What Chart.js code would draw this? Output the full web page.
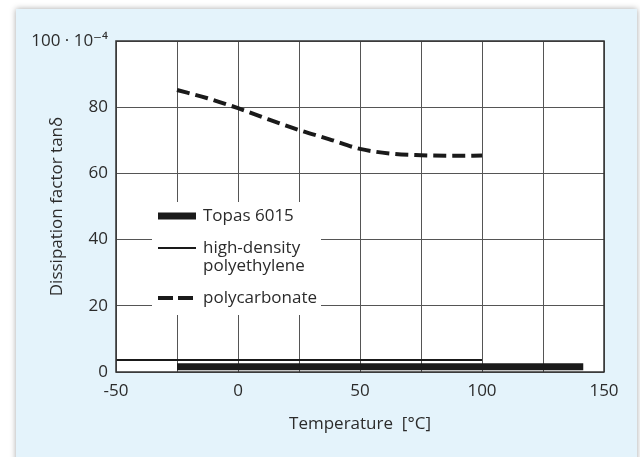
<!DOCTYPE html>
<html>
<head>
<meta charset="utf-8">
<script src="https://cdn.jsdelivr.net/npm/chart.js@4/dist/chart.umd.min.js"></script>
<style>
  html, body { margin: 0; padding: 0; background: #fff; }
  #panel {
    position: absolute; left: 16px; top: 9px; width: 621px; height: 460px;
    background: #e4f3fb; box-shadow: 0 0 6px rgba(0, 0, 0, 0.35);
  }
  #wrap { position: absolute; left: 0; top: 0; width: 640px; height: 457px; }
</style>
</head>
<body>
<div id="panel"></div>
<div id="wrap"><canvas id="chart" width="640" height="457"></canvas></div>
<script>
const FONT = '"Open Sans", "DejaVu Sans", sans-serif'
const INK = '#2b2b2b'

// temperatures (°C) and dissipation factor (x 10^-4)
const topasTemps = [-25, 141.5]
const topasValues = [1.6, 1.6]
const hdpeTemps = [-50, 100]
const hdpeValues = [3.6, 3.6]
const pcTemps = [-25, -12.5, 0, 12.5, 25, 37.5, 50, 62.5, 75, 87.5, 100]
const pcValues = [85.2, 82.7, 79.7, 76.3, 73.1, 70.3, 67.4, 66.0, 65.5, 65.3, 65.4]

const xLabels = [-50, 0, 50, 100, 150]
const yTopLabel = '100 · 10⁻⁴'

const legendItems = [
  { text: ['Topas 6015'], width: 7, dash: [] },
  { text: ['high-density', 'polyethylene'], width: 2, dash: [] },
  { text: ['polycarbonate'], width: 4, dash: [15, 5] },
]

const toPoints = (xs, ys) => xs.map((x, i) => ({ x, y: ys[i] }))

const plotFrame = {
  id: 'plotFrame',
  beforeDraw(chart) {
    const { ctx, chartArea: a } = chart
    ctx.save()
    ctx.fillStyle = '#fff'
    ctx.fillRect(a.left, a.top, a.right - a.left, a.bottom - a.top)
    ctx.restore()
  },
  afterDraw(chart) {
    const { ctx, chartArea: a } = chart
    ctx.save()
    ctx.strokeStyle = '#333'
    ctx.lineWidth = 1.5
    ctx.strokeRect(a.left, a.top, a.right - a.left, a.bottom - a.top)
    ctx.restore()
  },
}

const boxLegend = {
  id: 'boxLegend',
  afterDatasetsDraw(chart) {
    const { ctx } = chart
    ctx.save()
    ctx.fillStyle = '#fff'
    ctx.fillRect(152, 202, 169, 113)
    ctx.font = '17px ' + FONT
    ctx.textBaseline = 'middle'
    ctx.fillStyle = INK
    const rows = [216, 248, 298]
    legendItems.forEach((item, i) => {
      const y = rows[i]
      ctx.strokeStyle = '#1a1a1a'
      ctx.lineWidth = item.width
      ctx.setLineDash(item.dash)
      ctx.beginPath()
      ctx.moveTo(158, y)
      ctx.lineTo(196, y)
      ctx.stroke()
      ctx.setLineDash([])
      item.text.forEach((t, j) => ctx.fillText(t, 203, y + j * 18))
    })
    ctx.restore()
  },
}

new Chart(document.getElementById('chart'), {
  type: 'line',
  data: {
    datasets: [
      {
        label: 'Topas 6015',
        data: toPoints(topasTemps, topasValues),
        borderColor: '#1a1a1a',
        borderWidth: 7,
        pointRadius: 0,
        borderCapStyle: 'butt',
      },
      {
        label: 'high-density polyethylene',
        data: toPoints(hdpeTemps, hdpeValues),
        borderColor: '#1a1a1a',
        borderWidth: 2,
        pointRadius: 0,
      },
      {
        label: 'polycarbonate',
        data: toPoints(pcTemps, pcValues),
        borderColor: '#1a1a1a',
        borderWidth: 4,
        borderDash: [13, 6],
        pointRadius: 0,
        cubicInterpolationMode: 'monotone',
      },
    ],
  },
  options: {
    responsive: false,
    animation: false,
    layout: { padding: { left: 16, top: 41, right: 36, bottom: 0 } },
    plugins: { legend: { display: false }, tooltip: { enabled: false } },
    scales: {
      x: {
        type: 'linear',
        min: -50,
        max: 150,
        afterFit: (s) => { s.height = 85 },
        ticks: {
          stepSize: 25,
          padding: 9,
          maxRotation: 0,
          autoSkip: false,
          color: INK,
          font: { family: FONT, size: 17 },
          callback: (v) => (xLabels.includes(v) ? String(v) : ''),
        },
        grid: { color: '#555', lineWidth: 1, drawTicks: false },
        border: { display: false },
        title: {
          display: true,
          text: 'Temperature  [°C]',
          color: INK,
          font: { family: FONT, size: 17 },
          padding: { top: 0, bottom: 23 },
        },
      },
      y: {
        min: 0,
        max: 100,
        afterFit: (s) => { s.width = 100 },
        ticks: {
          stepSize: 20,
          padding: 8,
          color: INK,
          font: { family: FONT, size: 17 },
          callback: (v) => (v === 100 ? yTopLabel : String(v)),
        },
        grid: { color: '#555', lineWidth: 1, drawTicks: false },
        border: { display: false },
        title: {
          display: true,
          text: 'Dissipation factor tanδ',
          color: INK,
          font: { family: FONT, size: 17 },
          padding: { top: 31, bottom: 0 },
        },
      },
    },
  },
  plugins: [plotFrame, boxLegend],
})
</script>
</body>
</html>
